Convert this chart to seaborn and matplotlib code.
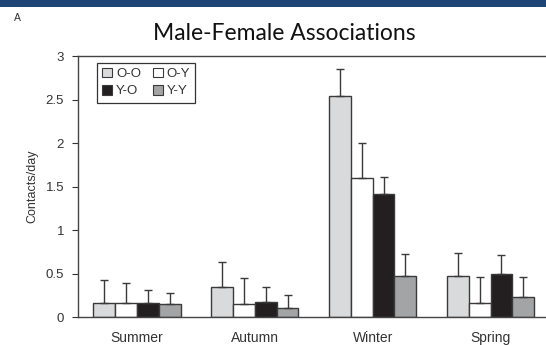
import matplotlib
matplotlib.use("Agg")
import matplotlib.pyplot as plt
import matplotlib.patches as mpatches
import numpy as np
import pandas as pd
import seaborn as sns

# Seasonal association rates (mean contacts/day and upper error)
seasons = ["Summer", "Autumn", "Winter", "Spring"]
pairs = ["O-O", "O-Y", "Y-O", "Y-Y"]
mean_oo = [0.16, 0.34, 2.54, 0.47]
mean_oy = [0.16, 0.15, 1.60, 0.16]
mean_yo = [0.16, 0.17, 1.41, 0.50]
mean_yy = [0.15, 0.10, 0.47, 0.23]
err_oo = [0.27, 0.29, 0.31, 0.26]
err_oy = [0.23, 0.30, 0.40, 0.30]
err_yo = [0.15, 0.18, 0.20, 0.21]
err_yy = [0.13, 0.15, 0.25, 0.23]
y_ticks = [0, 0.5, 1, 1.5, 2, 2.5, 3]
y_tick_labels = ["0", "0.5", "1", "1.5", "2", "2.5", "3"]

means = [mean_oo, mean_oy, mean_yo, mean_yy]
errs = [err_oo, err_oy, err_yo, err_yy]
df = pd.DataFrame({
    "season": [s for _ in pairs for s in seasons],
    "pair": [p for p in pairs for _ in seasons],
    "value": [v for m in means for v in m],
})

colors = {"O-O": "#d9dadc", "O-Y": "#ffffff", "Y-O": "#231f20", "Y-Y": "#a3a4a6"}
edge = "#3a3a3a"

sns.set_style("white")
plt.rcParams["font.family"] = ["Liberation Sans", "DejaVu Sans"]

fig = plt.figure(figsize=(5.46, 3.45), dpi=100)
ax = fig.add_axes([78 / 546, 28 / 345, 471.5 / 546, 261 / 345])

sns.barplot(data=df, x="season", y="value", hue="pair", order=seasons,
            hue_order=pairs, palette=colors, width=0.74, errorbar=None,
            edgecolor=edge, linewidth=1.0, saturation=1, legend=False, ax=ax)

# Upward-only error bars placed on each bar's centre
for container, err in zip(ax.containers, errs):
    xs = [b.get_x() + b.get_width() / 2 for b in container]
    ys = [b.get_height() for b in container]
    ax.errorbar(xs, ys, yerr=[np.zeros(len(err)), err], fmt="none",
                ecolor="#3a3a3a", elinewidth=1.0, capsize=3, capthick=1.0,
                zorder=1)

ax.set_xlim(-0.5, 3.5)
ax.set_ylim(0, 3)
ax.set_yticks(y_ticks)
ax.set_yticklabels(y_tick_labels)
ax.set_xlabel("")
ax.set_ylabel("Contacts/day", fontsize=9, color="#333333", labelpad=5)
ax.tick_params(axis="y", direction="out", length=4, width=0.8,
               color="#333333", labelsize=9.5, labelcolor="#333333", pad=6, left=True)
ax.tick_params(axis="x", length=0, labelsize=10, labelcolor="#333333", pad=10)

for side in ["left", "bottom", "top"]:
    ax.spines[side].set_visible(True)
    ax.spines[side].set_color("#444444")
    ax.spines[side].set_linewidth(1.0)
ax.spines["right"].set_visible(False)

handles = [mpatches.Patch(facecolor=colors[p], edgecolor=edge, linewidth=0.8, label=p)
           for p in ["O-O", "Y-O", "O-Y", "Y-Y"]]
leg = ax.legend(handles=handles, ncol=2, loc="upper left",
                bbox_to_anchor=(0.04, 0.975), borderaxespad=0, frameon=True,
                fancybox=False, framealpha=1, edgecolor="#333333",
                fontsize=9.5, handlelength=0.75, handleheight=0.75,
                handletextpad=0.3, columnspacing=0.9, labelspacing=0.35,
                borderpad=0.4)
leg.get_frame().set_linewidth(0.9)
for t in leg.get_texts():
    t.set_color("#333333")

# Header band, panel letter and title
fig.patches.append(mpatches.Rectangle((0, 1 - 7 / 345), 1, 7 / 345,
                                      transform=fig.transFigure,
                                      facecolor="#1f4577", edgecolor="none"))
fig.text(17 / 546, 1 - 18 / 345, "A", fontsize=7.5, color="#333333",
         ha="center", va="center")
fig.text(284 / 546, 1 - 33 / 345, "Male-Female Associations",
         fontsize=16.5, family=["Lato", "DejaVu Sans"], color="#111111",
         ha="center", va="center")

fig.savefig("out.png", dpi=100)
